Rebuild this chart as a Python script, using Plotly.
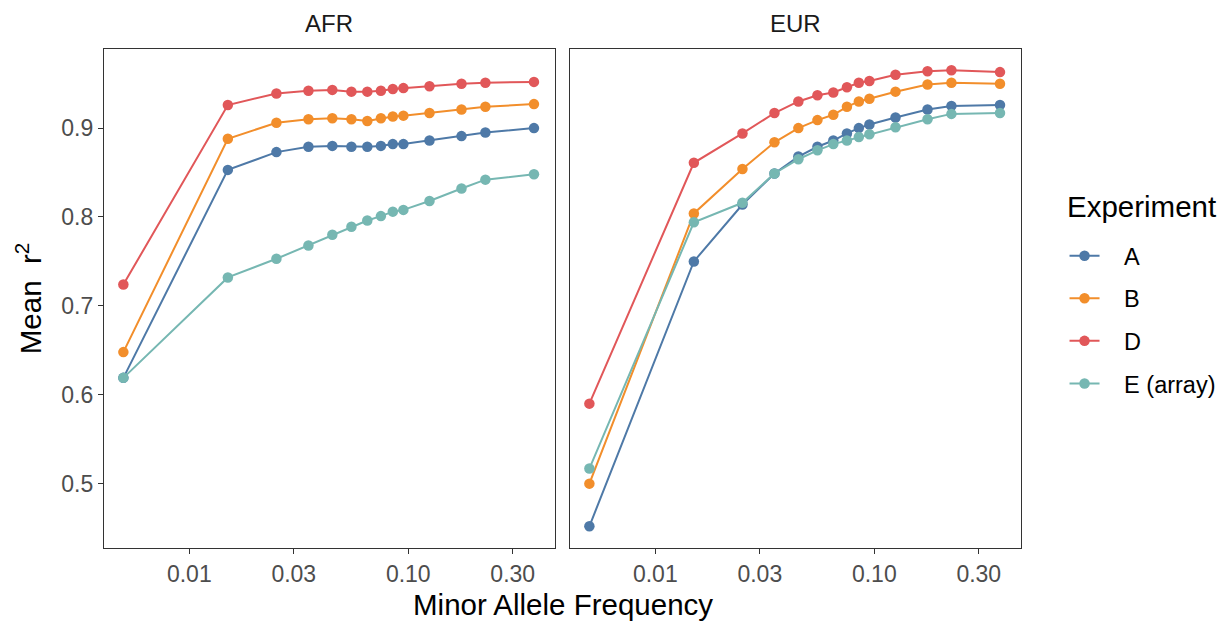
import numpy as np
import plotly.graph_objects as go

# Minor allele frequency bin midpoints
maf = [0.005, 0.015, 0.025, 0.035, 0.045, 0.055, 0.065, 0.075, 0.085, 0.095,
       0.125, 0.175, 0.225, 0.375]

experiments = ["A", "B", "D", "E (array)"]
colors = {"A": "#4E79A7", "B": "#F28E2B", "D": "#E15759", "E (array)": "#76B7B2"}

# Mean r^2 per experiment, AFR population
afr_A = [0.619, 0.853, 0.873, 0.879, 0.880, 0.879, 0.879, 0.880, 0.882, 0.882, 0.886, 0.891, 0.895, 0.900]
afr_B = [0.648, 0.888, 0.906, 0.910, 0.911, 0.910, 0.908, 0.911, 0.913, 0.914, 0.917, 0.921, 0.924, 0.927]
afr_D = [0.724, 0.926, 0.939, 0.942, 0.943, 0.941, 0.941, 0.942, 0.944, 0.945, 0.947, 0.950, 0.951, 0.952]
afr_E = [0.619, 0.732, 0.753, 0.768, 0.780, 0.789, 0.796, 0.801, 0.806, 0.808, 0.818, 0.832, 0.842, 0.848]

# Mean r^2 per experiment, EUR population
eur_A = [0.452, 0.750, 0.814, 0.849, 0.868, 0.879, 0.886, 0.894, 0.900, 0.904, 0.912, 0.921, 0.925, 0.926]
eur_B = [0.500, 0.804, 0.854, 0.884, 0.900, 0.909, 0.915, 0.924, 0.930, 0.933, 0.941, 0.949, 0.951, 0.950]
eur_D = [0.590, 0.861, 0.894, 0.917, 0.930, 0.937, 0.940, 0.946, 0.951, 0.953, 0.960, 0.964, 0.965, 0.963]
eur_E = [0.517, 0.794, 0.816, 0.849, 0.865, 0.875, 0.882, 0.886, 0.890, 0.893, 0.901, 0.910, 0.916, 0.917]

panels = {
    "AFR": dict(zip(experiments, [afr_A, afr_B, afr_D, afr_E])),
    "EUR": dict(zip(experiments, [eur_A, eur_B, eur_D, eur_E])),
}

FONT = "Liberation Sans, Arial, sans-serif"
AXIS_COL = "#333333"
TICK_SIZE = 23
STRIP_SIZE = 24
TITLE_SIZE = 29.5
PAD = "\u00a0\u00a0\u00a0"  # gap between legend key and label

fig = go.Figure()
for i, (pop, series) in enumerate(panels.items()):
    xa = "x" if i == 0 else "x2"
    ya = "y" if i == 0 else "y2"
    for exp in experiments:
        fig.add_trace(go.Scatter(
            x=maf, y=series[exp], mode="lines+markers", name=PAD + exp,
            legendgroup=exp, showlegend=(i == 0),
            line=dict(color=colors[exp], width=2),
            marker=dict(color=colors[exp], size=10.5),
            xaxis=xa, yaxis=ya,
        ))

tickvals = [0.01, 0.03, 0.1, 0.3]
ticktext = ["0.01", "0.03", "0.10", "0.30"]
xrange = [-2.3895, -0.33]
yrange = [0.4276, 0.989]

common_x = dict(
    type="log", range=xrange, tickvals=tickvals, ticktext=ticktext,
    showgrid=False, zeroline=False, showline=True, mirror=True,
    linecolor=AXIS_COL, linewidth=1.3, ticks="outside", ticklen=5,
    tickcolor=AXIS_COL, tickwidth=1.3,
    tickfont=dict(family=FONT, size=TICK_SIZE, color="#4d4d4d"),
)
common_y = dict(
    range=yrange, showgrid=False, zeroline=False, showline=True, mirror=True,
    linecolor=AXIS_COL, linewidth=1.3,
)

fig.update_layout(
    width=1225, height=622,
    margin=dict(l=104, r=204, t=49, b=74),
    paper_bgcolor="white", plot_bgcolor="white",
    font=dict(family=FONT, color="#1a1a1a"),
    xaxis=dict(domain=[0, 0.4918], **common_x),
    xaxis2=dict(domain=[0.5082, 1], anchor="y2", **common_x),
    yaxis=dict(
        tickvals=[0.5, 0.6, 0.7, 0.8, 0.9], ticktext=["0.5", "0.6", "0.7", "0.8", "0.9"],
        ticks="outside", ticklen=5, tickcolor=AXIS_COL, tickwidth=1.3,
        tickfont=dict(family=FONT, size=TICK_SIZE, color="#4d4d4d"),
        title=dict(text="Mean  r<sup>2</sup>", font=dict(family=FONT, size=TITLE_SIZE, color="#000000"), standoff=10),
        **common_y,
    ),
    yaxis2=dict(anchor="x2", matches="y", showticklabels=False, ticks="", **common_y),
    legend=dict(
        font=dict(family=FONT, size=23.5, color="#000000"),
        xref="container", yref="container",
        x=0.869, xanchor="left", y=0.6238, yanchor="top",
        tracegroupgap=9, bgcolor="rgba(0,0,0,0)",
    ),
    annotations=[
        dict(text="AFR", x=0.2459, y=1.0, xref="paper", yref="paper",
             xanchor="center", yanchor="bottom", yshift=10, showarrow=False,
             font=dict(family=FONT, size=STRIP_SIZE, color="#1a1a1a")),
        dict(text="EUR", x=0.7541, y=1.0, xref="paper", yref="paper",
             xanchor="center", yanchor="bottom", yshift=10, showarrow=False,
             font=dict(family=FONT, size=STRIP_SIZE, color="#1a1a1a")),
        dict(text="Minor Allele Frequency", x=0.5, y=0, xref="paper", yref="paper",
             xanchor="center", yanchor="top", yshift=-38, showarrow=False,
             font=dict(family=FONT, size=TITLE_SIZE, color="#000000")),
        # legend heading
        dict(text="Experiment", x=1.0475, y=0.6834, xref="paper", yref="paper",
             xanchor="left", yanchor="middle", showarrow=False,
             font=dict(family=FONT, size=TITLE_SIZE, color="#000000")),
    ],
)

fig.write_html("out.html")
